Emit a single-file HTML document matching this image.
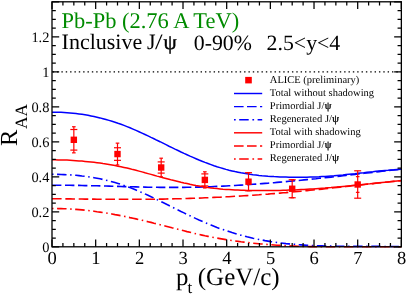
<!DOCTYPE html>
<html><head><meta charset="utf-8"><style>html,body{margin:0;padding:0;background:#fff}svg{display:block;will-change:transform}text{font-family:"Liberation Serif",serif;text-rendering:geometricPrecision}</style></head><body>
<svg width="407" height="295" viewBox="0 0 407 295">
<rect width="407" height="295" fill="#fff"/>
<g opacity="0.999">
<line x1="52.7" y1="71.80" x2="401.36" y2="71.80" stroke="#000" stroke-width="1.3" stroke-dasharray="1.4 2.95"/>
<path d="M52.0 174.3 55.0 174.3 58.0 174.4 61.0 174.5 64.0 174.6 67.0 174.7 70.0 174.9 73.0 175.1 76.0 175.3 79.0 175.6 82.0 176.0 85.0 176.3 88.0 176.7 91.0 177.2 94.0 177.7 97.0 178.2 100.0 178.8 103.0 179.5 106.0 180.2 109.0 180.9 112.0 181.7 115.0 182.5 118.0 183.4 121.0 184.4 124.0 185.4 127.0 186.5 130.0 187.6 133.0 188.8 136.0 190.0 139.0 191.3 142.0 192.6 145.0 193.9 148.0 195.3 151.0 196.7 154.0 198.1 157.0 199.6 160.0 201.0 163.0 202.5 166.0 204.0 169.0 205.5 172.0 207.0 175.0 208.5 178.0 210.0 181.0 211.5 184.0 212.9 187.0 214.4 190.0 215.8 193.0 217.2 196.0 218.6 199.0 220.0 202.0 221.3 205.0 222.6 208.0 223.9 211.0 225.1 214.0 226.3 217.0 227.5 220.0 228.6 223.0 229.6 226.0 230.6 229.0 231.6 232.0 232.6 235.0 233.5 238.0 234.4 241.0 235.2 244.0 236.0 247.0 236.8 250.0 237.5 253.0 238.2 256.0 238.8 259.0 239.5 262.0 240.0 265.0 240.6 268.0 241.1 271.0 241.6 274.0 242.0 277.0 242.5 280.0 242.9 283.0 243.2 286.0 243.6 289.0 243.9 292.0 244.2 295.0 244.4 298.0 244.7 301.0 244.9 304.0 245.1 307.0 245.3 310.0 245.4 313.0 245.6 316.0 245.7 319.0 245.8 322.0 245.9 325.0 246.0 328.0 246.1 331.0 246.1 334.0 246.2 337.0 246.2 340.0 246.3 343.0 246.3 346.0 246.3 349.0 246.3 352.0 246.4 355.0 246.4 358.0 246.4 361.0 246.4 364.0 246.4 367.0 246.4 370.0 246.4 373.0 246.4 376.0 246.4 379.0 246.4 382.0 246.5 385.0 246.5 388.0 246.5 391.0 246.5 394.0 246.5 397.0 246.5 401.4 246.5" fill="none" stroke="#0000ff" stroke-width="1.6" stroke-dasharray="1.5 3.55 9.5 3.6"/>
<path d="M52.0 208.5 55.0 208.5 58.0 208.6 61.0 208.6 64.0 208.7 67.0 208.8 70.0 209.0 73.0 209.2 76.0 209.4 79.0 209.6 82.0 209.9 85.0 210.2 88.0 210.5 91.0 210.9 94.0 211.2 97.0 211.7 100.0 212.1 103.0 212.5 106.0 213.0 109.0 213.5 112.0 214.0 115.0 214.6 118.0 215.1 121.0 215.7 124.0 216.3 127.0 216.9 130.0 217.6 133.0 218.2 136.0 218.9 139.0 219.6 142.0 220.3 145.0 221.0 148.0 221.7 151.0 222.4 154.0 223.2 157.0 223.9 160.0 224.7 163.0 225.4 166.0 226.2 169.0 227.0 172.0 227.8 175.0 228.5 178.0 229.3 181.0 230.1 184.0 230.8 187.0 231.6 190.0 232.3 193.0 233.0 196.0 233.8 199.0 234.4 202.0 235.1 205.0 235.8 208.0 236.4 211.0 237.0 214.0 237.6 217.0 238.1 220.0 238.6 223.0 239.1 226.0 239.6 229.0 240.1 232.0 240.5 235.0 241.0 238.0 241.4 241.0 241.8 244.0 242.1 247.0 242.5 250.0 242.8 253.0 243.2 256.0 243.5 259.0 243.8 262.0 244.0 265.0 244.3 268.0 244.5 271.0 244.8 274.0 245.0 277.0 245.2 280.0 245.4 283.0 245.5 286.0 245.7 289.0 245.8 292.0 246.0 295.0 246.1 298.0 246.2 301.0 246.3 304.0 246.4 307.0 246.5 310.0 246.6 313.0 246.6 316.0 246.7 319.0 246.7 322.0 246.8 325.0 246.8 328.0 246.8 331.0 246.8 334.0 246.8 337.0 246.8 340.0 246.8 343.0 246.8 346.0 246.8 349.0 246.8 352.0 246.8 355.0 246.8 358.0 246.8 361.0 246.8 364.0 246.8 367.0 246.8 370.0 246.8 373.0 246.8 376.0 246.8 379.0 246.8 382.0 246.8 385.0 246.8 388.0 246.8 391.0 246.7 394.0 246.7 397.0 246.7 401.4 246.8" fill="none" stroke="#ff0000" stroke-width="1.6" stroke-dasharray="1.5 3.55 9.5 3.6"/>
<path d="M52.0 185.2 55.0 185.2 58.0 185.2 61.0 185.2 64.0 185.3 67.0 185.3 70.0 185.3 73.0 185.4 76.0 185.4 79.0 185.4 82.0 185.5 85.0 185.6 88.0 185.6 91.0 185.7 94.0 185.7 97.0 185.8 100.0 185.9 103.0 186.0 106.0 186.0 109.0 186.1 112.0 186.2 115.0 186.3 118.0 186.4 121.0 186.5 124.0 186.6 127.0 186.6 130.0 186.7 133.0 186.8 136.0 186.9 139.0 187.0 142.0 187.0 145.0 187.1 148.0 187.2 151.0 187.2 154.0 187.3 157.0 187.3 160.0 187.4 163.0 187.4 166.0 187.4 169.0 187.4 172.0 187.4 175.0 187.4 178.0 187.4 181.0 187.4 184.0 187.4 187.0 187.3 190.0 187.3 193.0 187.2 196.0 187.1 199.0 187.1 202.0 187.0 205.0 186.9 208.0 186.8 211.0 186.7 214.0 186.5 217.0 186.4 220.0 186.3 223.0 186.1 226.0 186.0 229.0 185.8 232.0 185.7 235.0 185.5 238.0 185.3 241.0 185.1 244.0 184.9 247.0 184.7 250.0 184.5 253.0 184.3 256.0 184.1 259.0 183.9 262.0 183.6 265.0 183.4 268.0 183.2 271.0 182.9 274.0 182.7 277.0 182.4 280.0 182.1 283.0 181.9 286.0 181.6 289.0 181.3 292.0 181.1 295.0 180.8 298.0 180.5 301.0 180.2 304.0 179.9 307.0 179.6 310.0 179.3 313.0 179.0 316.0 178.7 319.0 178.3 322.0 178.0 325.0 177.7 328.0 177.4 331.0 177.1 334.0 176.7 337.0 176.4 340.0 176.1 343.0 175.7 346.0 175.4 349.0 175.0 352.0 174.7 355.0 174.4 358.0 174.0 361.0 173.7 364.0 173.3 367.0 173.0 370.0 172.7 373.0 172.3 376.0 172.0 379.0 171.6 382.0 171.3 385.0 171.0 388.0 170.6 391.0 170.3 394.0 170.0 397.0 169.7 401.4 169.3" fill="none" stroke="#0000ff" stroke-width="1.6" stroke-dasharray="9.4 3.6"/>
<path d="M52.0 198.8 55.0 198.8 58.0 198.8 61.0 198.8 64.0 198.9 67.0 198.9 70.0 198.9 73.0 199.0 76.0 199.0 79.0 199.0 82.0 199.0 85.0 199.1 88.0 199.1 91.0 199.1 94.0 199.1 97.0 199.2 100.0 199.2 103.0 199.2 106.0 199.2 109.0 199.3 112.0 199.3 115.0 199.3 118.0 199.3 121.0 199.3 124.0 199.3 127.0 199.3 130.0 199.3 133.0 199.3 136.0 199.3 139.0 199.3 142.0 199.3 145.0 199.3 148.0 199.3 151.0 199.2 154.0 199.2 157.0 199.2 160.0 199.1 163.0 199.1 166.0 199.0 169.0 198.9 172.0 198.9 175.0 198.8 178.0 198.7 181.0 198.7 184.0 198.6 187.0 198.5 190.0 198.4 193.0 198.3 196.0 198.2 199.0 198.1 202.0 198.0 205.0 197.8 208.0 197.7 211.0 197.6 214.0 197.4 217.0 197.3 220.0 197.2 223.0 197.0 226.0 196.8 229.0 196.7 232.0 196.5 235.0 196.3 238.0 196.2 241.0 196.0 244.0 195.8 247.0 195.6 250.0 195.4 253.0 195.2 256.0 195.0 259.0 194.8 262.0 194.5 265.0 194.3 268.0 194.1 271.0 193.8 274.0 193.6 277.0 193.4 280.0 193.1 283.0 192.8 286.0 192.6 289.0 192.3 292.0 192.0 295.0 191.8 298.0 191.5 301.0 191.2 304.0 190.9 307.0 190.6 310.0 190.3 313.0 190.0 316.0 189.7 319.0 189.4 322.0 189.1 325.0 188.7 328.0 188.4 331.0 188.1 334.0 187.8 337.0 187.4 340.0 187.1 343.0 186.8 346.0 186.5 349.0 186.1 352.0 185.8 355.0 185.5 358.0 185.2 361.0 184.9 364.0 184.5 367.0 184.2 370.0 183.9 373.0 183.6 376.0 183.3 379.0 183.0 382.0 182.6 385.0 182.3 388.0 182.0 391.0 181.7 394.0 181.4 397.0 181.1 401.4 180.7" fill="none" stroke="#ff0000" stroke-width="1.6" stroke-dasharray="9.6 3.75"/>
<path d="M52.0 112.2 55.0 112.2 58.0 112.2 61.0 112.3 64.0 112.5 67.0 112.7 70.0 112.9 73.0 113.2 76.0 113.5 79.0 113.9 82.0 114.3 85.0 114.8 88.0 115.3 91.0 115.9 94.0 116.5 97.0 117.2 100.0 117.9 103.0 118.7 106.0 119.5 109.0 120.4 112.0 121.3 115.0 122.2 118.0 123.3 121.0 124.3 124.0 125.4 127.0 126.6 130.0 127.8 133.0 129.1 136.0 130.4 139.0 131.7 142.0 133.1 145.0 134.5 148.0 135.9 151.0 137.4 154.0 138.8 157.0 140.3 160.0 141.7 163.0 143.2 166.0 144.7 169.0 146.2 172.0 147.6 175.0 149.1 178.0 150.5 181.0 152.0 184.0 153.4 187.0 154.7 190.0 156.1 193.0 157.4 196.0 158.7 199.0 160.0 202.0 161.2 205.0 162.4 208.0 163.5 211.0 164.6 214.0 165.7 217.0 166.7 220.0 167.6 223.0 168.5 226.0 169.4 229.0 170.2 232.0 170.9 235.0 171.6 238.0 172.2 241.0 172.8 244.0 173.3 247.0 173.8 250.0 174.3 253.0 174.7 256.0 175.0 259.0 175.4 262.0 175.7 265.0 175.9 268.0 176.2 271.0 176.4 274.0 176.6 277.0 176.7 280.0 176.9 283.0 177.0 286.0 177.1 289.0 177.2 292.0 177.2 295.0 177.3 298.0 177.3 301.0 177.3 304.0 177.2 307.0 177.2 310.0 177.1 313.0 177.0 316.0 176.9 319.0 176.8 322.0 176.6 325.0 176.4 328.0 176.2 331.0 176.0 334.0 175.8 337.0 175.5 340.0 175.2 343.0 175.0 346.0 174.6 349.0 174.3 352.0 174.0 355.0 173.7 358.0 173.3 361.0 173.0 364.0 172.7 367.0 172.3 370.0 172.0 373.0 171.7 376.0 171.3 379.0 171.0 382.0 170.7 385.0 170.4 388.0 170.2 391.0 169.9 394.0 169.7 397.0 169.4 401.4 169.2" fill="none" stroke="#0000ff" stroke-width="1.5"/>
<path d="M52.0 159.8 55.0 159.8 58.0 159.9 61.0 159.9 64.0 160.0 67.0 160.1 70.0 160.3 73.0 160.5 76.0 160.7 79.0 160.9 82.0 161.1 85.0 161.4 88.0 161.7 91.0 162.0 94.0 162.3 97.0 162.7 100.0 163.1 103.0 163.6 106.0 164.0 109.0 164.5 112.0 165.0 115.0 165.6 118.0 166.2 121.0 166.8 124.0 167.4 127.0 168.1 130.0 168.8 133.0 169.6 136.0 170.3 139.0 171.1 142.0 171.9 145.0 172.8 148.0 173.6 151.0 174.4 154.0 175.2 157.0 176.1 160.0 176.9 163.0 177.7 166.0 178.5 169.0 179.3 172.0 180.1 175.0 180.8 178.0 181.5 181.0 182.3 184.0 183.0 187.0 183.6 190.0 184.3 193.0 184.9 196.0 185.5 199.0 186.0 202.0 186.5 205.0 187.0 208.0 187.5 211.0 187.9 214.0 188.3 217.0 188.6 220.0 188.9 223.0 189.2 226.0 189.4 229.0 189.6 232.0 189.8 235.0 190.0 238.0 190.1 241.0 190.2 244.0 190.3 247.0 190.4 250.0 190.5 253.0 190.5 256.0 190.5 259.0 190.6 262.0 190.6 265.0 190.6 268.0 190.5 271.0 190.5 274.0 190.5 277.0 190.4 280.0 190.4 283.0 190.3 286.0 190.2 289.0 190.1 292.0 190.0 295.0 189.9 298.0 189.7 301.0 189.6 304.0 189.5 307.0 189.3 310.0 189.1 313.0 188.9 316.0 188.7 319.0 188.5 322.0 188.3 325.0 188.1 328.0 187.8 331.0 187.6 334.0 187.3 337.0 187.1 340.0 186.8 343.0 186.5 346.0 186.2 349.0 185.9 352.0 185.6 355.0 185.3 358.0 185.0 361.0 184.7 364.0 184.4 367.0 184.1 370.0 183.8 373.0 183.4 376.0 183.1 379.0 182.8 382.0 182.5 385.0 182.2 388.0 181.9 391.0 181.6 394.0 181.3 397.0 181.0 401.4 180.6" fill="none" stroke="#ff0000" stroke-width="1.5"/>
<g stroke="#ff0000" stroke-width="1.2" fill="none">
<line x1="73.84" y1="126.75" x2="73.84" y2="152.85"/>
<line x1="70.34" y1="129.50" x2="77.34" y2="129.50"/>
<line x1="72.04" y1="126.75" x2="75.64" y2="126.75"/>
<line x1="70.34" y1="150.10" x2="77.34" y2="150.10"/>
<line x1="72.04" y1="152.85" x2="75.64" y2="152.85"/>
</g>
<rect x="70.64" y="136.60" width="6.4" height="6.4" fill="#ff0000"/>
<g stroke="#ff0000" stroke-width="1.2" fill="none">
<line x1="117.50" y1="143.15" x2="117.50" y2="164.95"/>
<line x1="114.00" y1="147.75" x2="121.00" y2="147.75"/>
<line x1="115.70" y1="143.15" x2="119.30" y2="143.15"/>
<line x1="114.00" y1="160.35" x2="121.00" y2="160.35"/>
<line x1="115.70" y1="164.95" x2="119.30" y2="164.95"/>
</g>
<rect x="114.30" y="150.85" width="6.4" height="6.4" fill="#ff0000"/>
<g stroke="#ff0000" stroke-width="1.2" fill="none">
<line x1="161.18" y1="158.20" x2="161.18" y2="176.80"/>
<line x1="157.68" y1="161.90" x2="164.68" y2="161.90"/>
<line x1="159.38" y1="158.20" x2="162.98" y2="158.20"/>
<line x1="157.68" y1="173.10" x2="164.68" y2="173.10"/>
<line x1="159.38" y1="176.80" x2="162.98" y2="176.80"/>
</g>
<rect x="157.98" y="164.30" width="6.4" height="6.4" fill="#ff0000"/>
<g stroke="#ff0000" stroke-width="1.2" fill="none">
<line x1="204.84" y1="171.80" x2="204.84" y2="188.00"/>
<line x1="201.34" y1="173.90" x2="208.34" y2="173.90"/>
<line x1="203.04" y1="171.80" x2="206.65" y2="171.80"/>
<line x1="201.34" y1="185.90" x2="208.34" y2="185.90"/>
<line x1="203.04" y1="188.00" x2="206.65" y2="188.00"/>
</g>
<rect x="201.65" y="176.70" width="6.4" height="6.4" fill="#ff0000"/>
<g stroke="#ff0000" stroke-width="1.2" fill="none">
<line x1="248.52" y1="172.70" x2="248.52" y2="190.70"/>
<line x1="245.02" y1="172.70" x2="252.02" y2="172.70"/>
<line x1="246.72" y1="172.70" x2="250.32" y2="172.70"/>
<line x1="245.02" y1="190.70" x2="252.02" y2="190.70"/>
<line x1="246.72" y1="190.70" x2="250.32" y2="190.70"/>
</g>
<rect x="245.32" y="178.50" width="6.4" height="6.4" fill="#ff0000"/>
<g stroke="#ff0000" stroke-width="1.2" fill="none">
<line x1="292.19" y1="179.75" x2="292.19" y2="197.75"/>
<line x1="288.69" y1="179.75" x2="295.69" y2="179.75"/>
<line x1="290.38" y1="179.75" x2="293.99" y2="179.75"/>
<line x1="288.69" y1="197.75" x2="295.69" y2="197.75"/>
<line x1="290.38" y1="197.75" x2="293.99" y2="197.75"/>
</g>
<rect x="288.99" y="185.55" width="6.4" height="6.4" fill="#ff0000"/>
<g stroke="#ff0000" stroke-width="1.2" fill="none">
<line x1="357.69" y1="170.80" x2="357.69" y2="198.20"/>
<line x1="354.19" y1="170.80" x2="361.19" y2="170.80"/>
<line x1="355.89" y1="176.65" x2="359.49" y2="176.65"/>
<line x1="354.19" y1="198.20" x2="361.19" y2="198.20"/>
<line x1="355.89" y1="192.35" x2="359.49" y2="192.35"/>
</g>
<rect x="354.49" y="181.30" width="6.4" height="6.4" fill="#ff0000"/>
<rect x="52.0" y="1.80" width="349.36" height="245.00" fill="none" stroke="#000" stroke-width="1.3"/>
<path d="M52.00,246.8v-7.2M52.00,1.80v7.2M62.92,246.8v-3.8M62.92,1.80v3.8M73.84,246.8v-3.8M73.84,1.80v3.8M84.75,246.8v-3.8M84.75,1.80v3.8M95.67,246.8v-7.2M95.67,1.80v7.2M106.59,246.8v-3.8M106.59,1.80v3.8M117.50,246.8v-3.8M117.50,1.80v3.8M128.42,246.8v-3.8M128.42,1.80v3.8M139.34,246.8v-7.2M139.34,1.80v7.2M150.26,246.8v-3.8M150.26,1.80v3.8M161.18,246.8v-3.8M161.18,1.80v3.8M172.09,246.8v-3.8M172.09,1.80v3.8M183.01,246.8v-7.2M183.01,1.80v7.2M193.93,246.8v-3.8M193.93,1.80v3.8M204.84,246.8v-3.8M204.84,1.80v3.8M215.76,246.8v-3.8M215.76,1.80v3.8M226.68,246.8v-7.2M226.68,1.80v7.2M237.60,246.8v-3.8M237.60,1.80v3.8M248.52,246.8v-3.8M248.52,1.80v3.8M259.43,246.8v-3.8M259.43,1.80v3.8M270.35,246.8v-7.2M270.35,1.80v7.2M281.27,246.8v-3.8M281.27,1.80v3.8M292.19,246.8v-3.8M292.19,1.80v3.8M303.10,246.8v-3.8M303.10,1.80v3.8M314.02,246.8v-7.2M314.02,1.80v7.2M324.94,246.8v-3.8M324.94,1.80v3.8M335.86,246.8v-3.8M335.86,1.80v3.8M346.77,246.8v-3.8M346.77,1.80v3.8M357.69,246.8v-7.2M357.69,1.80v7.2M368.61,246.8v-3.8M368.61,1.80v3.8M379.53,246.8v-3.8M379.53,1.80v3.8M390.44,246.8v-3.8M390.44,1.80v3.8M401.36,246.8v-7.2M401.36,1.80v7.2M52.0,246.80h7.2M401.36,246.80h-7.2M52.0,238.05h3.8M401.36,238.05h-3.8M52.0,229.30h3.8M401.36,229.30h-3.8M52.0,220.55h3.8M401.36,220.55h-3.8M52.0,211.80h7.2M401.36,211.80h-7.2M52.0,203.05h3.8M401.36,203.05h-3.8M52.0,194.30h3.8M401.36,194.30h-3.8M52.0,185.55h3.8M401.36,185.55h-3.8M52.0,176.80h7.2M401.36,176.80h-7.2M52.0,168.05h3.8M401.36,168.05h-3.8M52.0,159.30h3.8M401.36,159.30h-3.8M52.0,150.55h3.8M401.36,150.55h-3.8M52.0,141.80h7.2M401.36,141.80h-7.2M52.0,133.05h3.8M401.36,133.05h-3.8M52.0,124.30h3.8M401.36,124.30h-3.8M52.0,115.55h3.8M401.36,115.55h-3.8M52.0,106.80h7.2M401.36,106.80h-7.2M52.0,98.05h3.8M401.36,98.05h-3.8M52.0,89.30h3.8M401.36,89.30h-3.8M52.0,80.55h3.8M401.36,80.55h-3.8M52.0,71.80h7.2M401.36,71.80h-7.2M52.0,63.05h3.8M401.36,63.05h-3.8M52.0,54.30h3.8M401.36,54.30h-3.8M52.0,45.55h3.8M401.36,45.55h-3.8M52.0,36.80h7.2M401.36,36.80h-7.2M52.0,28.05h3.8M401.36,28.05h-3.8M52.0,19.30h3.8M401.36,19.30h-3.8M52.0,10.55h3.8M401.36,10.55h-3.8M52.0,1.80h7.2M401.36,1.80h-7.2" stroke="#000" stroke-width="1.25" fill="none"/>
<text x="52.20" y="264" font-size="18.5" text-anchor="middle">0</text>
<text x="95.87" y="264" font-size="18.5" text-anchor="middle">1</text>
<text x="139.54" y="264" font-size="18.5" text-anchor="middle">2</text>
<text x="183.21" y="264" font-size="18.5" text-anchor="middle">3</text>
<text x="226.88" y="264" font-size="18.5" text-anchor="middle">4</text>
<text x="270.55" y="264" font-size="18.5" text-anchor="middle">5</text>
<text x="314.22" y="264" font-size="18.5" text-anchor="middle">6</text>
<text x="357.89" y="264" font-size="18.5" text-anchor="middle">7</text>
<text x="401.56" y="264" font-size="18.5" text-anchor="middle">8</text>
<text x="49.4" y="252.00" font-size="14.4" text-anchor="end">0</text>
<text x="49.4" y="217.00" font-size="14.4" text-anchor="end">0.2</text>
<text x="49.4" y="182.00" font-size="14.4" text-anchor="end">0.4</text>
<text x="49.4" y="147.00" font-size="14.4" text-anchor="end">0.6</text>
<text x="49.4" y="112.00" font-size="14.4" text-anchor="end">0.8</text>
<text x="49.4" y="77.00" font-size="14.4" text-anchor="end">1</text>
<text x="49.4" y="42.00" font-size="14.4" text-anchor="end">1.2</text>
<text x="176.0" y="284.5" font-size="24.8">p</text><text x="187.5" y="293.3" font-size="17">t</text><text x="197.8" y="284.5" font-size="25">(GeV/c)</text>
<text transform="translate(17.3,145.9) rotate(-90)" font-size="24.5">R</text><text transform="translate(26.9,129) rotate(-90)" font-size="17.3">AA</text>
<text x="61.6" y="28.4" font-size="22.45" fill="#008b00">Pb-Pb (2.76 A TeV)</text>
<text x="61.6" y="49.4" font-size="22">Inclusive</text>
<text x="147" y="49.4" font-size="22">J</text><text x="155" y="49.4" font-size="22" textLength="7.6" lengthAdjust="spacingAndGlyphs">/</text>
<text x="163.5" y="49.4" font-size="21" stroke="#000" stroke-width="0.45">ψ</text>
<text x="193.8" y="49.6" font-size="21.8">0-90%</text>
<text x="266.6" y="49.6" font-size="21.8">2.5&lt;y&lt;4</text>
<rect x="245.2" y="76.9" width="6.6" height="6.5" fill="#ff0000"/>
<text x="269.8" y="82.5" font-size="10.5">ALICE (preliminary)</text>
<line x1="234" y1="93.5" x2="262.2" y2="93.5" stroke="#0000ff" stroke-width="1.45" stroke-dasharray=""/>
<text x="269.8" y="95.6" font-size="10.5">Total without shadowing</text>
<line x1="234" y1="106.6" x2="262.2" y2="106.6" stroke="#0000ff" stroke-width="1.45" stroke-dasharray="9.6 3.4"/>
<text x="269.8" y="108.7" font-size="10.5">Primordial J/<tspan font-size="10.6" stroke="#000" stroke-width="0.35" dx="0.3">ψ</tspan></text>
<line x1="234" y1="119.7" x2="262.2" y2="119.7" stroke="#0000ff" stroke-width="1.45" stroke-dasharray="1.7 3.5 9.5 3.7"/>
<text x="269.8" y="121.8" font-size="10.5">Regenerated J/<tspan font-size="10.6" stroke="#000" stroke-width="0.35" dx="0.3">ψ</tspan></text>
<line x1="234" y1="132.8" x2="262.2" y2="132.8" stroke="#ff0000" stroke-width="1.45" stroke-dasharray=""/>
<text x="269.8" y="134.9" font-size="10.5">Total with shadowing</text>
<line x1="234" y1="145.95" x2="262.2" y2="145.95" stroke="#ff0000" stroke-width="1.45" stroke-dasharray="9.6 3.4"/>
<text x="269.8" y="148.0" font-size="10.5">Primordial J/<tspan font-size="10.6" stroke="#000" stroke-width="0.35" dx="0.3">ψ</tspan></text>
<line x1="234" y1="159.0" x2="262.2" y2="159.0" stroke="#ff0000" stroke-width="1.45" stroke-dasharray="1.7 3.5 9.5 3.7"/>
<text x="269.8" y="161.1" font-size="10.5">Regenerated J/<tspan font-size="10.6" stroke="#000" stroke-width="0.35" dx="0.3">ψ</tspan></text>
</g>
</svg></body></html>
